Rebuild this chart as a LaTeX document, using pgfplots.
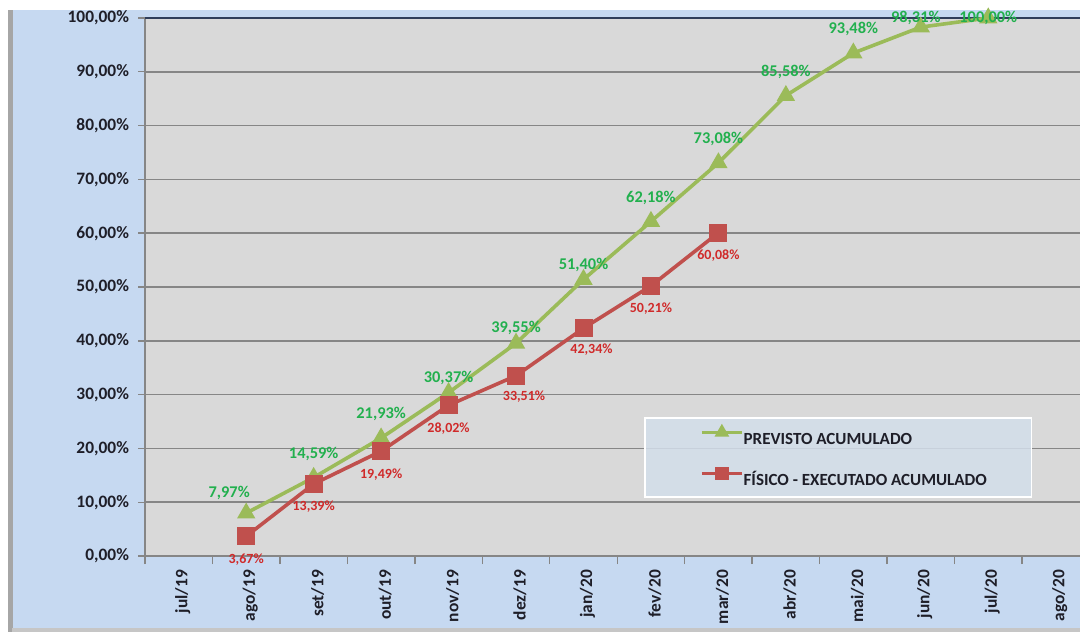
\documentclass[border=0pt]{standalone}
\usepackage{fontspec}
\setmainfont{Carlito}
\usepackage{pgfplots}
\pgfplotsset{compat=1.18}
\definecolor{bgblue}{HTML}{C6D9F1}
\definecolor{plotgray}{HTML}{D9D9D9}
\definecolor{gridgray}{HTML}{868686}
\definecolor{lgreen}{HTML}{9BBB59}
\definecolor{lred}{HTML}{C0504D}
\definecolor{tgreen}{HTML}{22B04E}
\definecolor{tred}{HTML}{D02A2A}
\definecolor{legfill}{HTML}{D3DEEA}
\definecolor{darktext}{HTML}{1E1E28}
\definecolor{topline}{HTML}{2F3E5A}
\pgfplotsset{
  lbl/.style={draw=none, mark=none, forget plot, point meta=y,
    nodes near coords={\pgfmathprintnumber[fixed,fixed zerofill,precision=2,use comma]{\pgfplotspointmeta}\%}},
  glbl/.style={lbl, every node near coord/.append style={anchor=center, inner sep=0pt, text=tgreen, font=\bfseries\fontsize{8.2}{9}\selectfont}},
  rlbl/.style={lbl, every node near coord/.append style={anchor=center, inner sep=0pt, text=tred, font=\bfseries\fontsize{7}{8}\selectfont}},
}
\begin{document}
\begin{tikzpicture}
\useasboundingbox (0,0) rectangle (540pt,316pt);
\fill[white] (0,0) rectangle (540pt,316pt);
\fill[bgblue] (6pt,0) rectangle (540pt,311pt);
\fill[gray!70] (4pt,0) rectangle (6.5pt,311pt);
\fill[gray!45] (6pt,0) rectangle (540pt,2pt);
\begin{axis}[
  at={(72.5pt,38pt)}, anchor=south west,
  scale only axis, width=467.5pt, height=269pt,
  xmin=-0.5, xmax=13.36, ymin=0, ymax=100,
  clip=false,
  /pgf/number format/assume math mode=true,
  axis background/.style={fill=plotgray},
  axis x line*=bottom, axis y line*=left,
  axis line style={gridgray, line width=0.8pt},
  ytick={0,10,...,100},
  yticklabels={{0,00\%},{10,00\%},{20,00\%},{30,00\%},{40,00\%},{50,00\%},{60,00\%},{70,00\%},{80,00\%},{90,00\%},{100,00\%}},
  xtick={0,...,13},
  xticklabels={jul/19,ago/19,set/19,out/19,nov/19,dez/19,jan/20,fev/20,mar/20,abr/20,mai/20,jun/20,jul/20,ago/20},
  minor xtick={-0.5,0.5,...,12.5},
  tick align=outside,
  major tick length=3.5pt, minor tick length=4pt,
  tick style={gridgray, line width=0.7pt},
  major x tick style={draw=none},
  ymajorgrids, major grid style={gridgray, line width=0.8pt},
  ticklabel style={font=\bfseries\fontsize{8.7}{10}\selectfont, text=darktext},
  yticklabel style={xshift=-1pt},
  xticklabel style={rotate=90, anchor=east, yshift=-2pt},
  legend style={at={(axis cs:6.907,25.65)}, anchor=north west, draw=none, fill=none,
    inner xsep=0pt, inner ysep=4.5pt, row sep=12pt, column sep=0pt,
    font=\bfseries\fontsize{8.5}{10}\selectfont, text=darktext,
    nodes={inner sep=0pt, text height=6pt, text depth=0pt}},
  legend cell align=left,
  legend image code/.code={\path (0pt,0pt) (47.5pt,0pt);
    \draw[mark repeat=2,mark phase=2,#1, mark options={solid, scale=0.7}] plot coordinates {(27.5pt,3pt) (37.5pt,3pt) (47.5pt,3pt)};},
]
\draw[topline, line width=0.8pt] (axis cs:-0.5,100) -- (axis cs:13.36,100);
\draw[white, line width=0.9pt, fill=legfill, fill opacity=0.85] (axis cs:6.907,10.97) rectangle (axis cs:12.64,25.65);

\addplot[lgreen, line width=1.8pt, mark=triangle*, mark size=3.5pt, mark options={solid}]
  coordinates {(1,7.97) (2,14.59) (3,21.93) (4,30.37) (5,39.55) (6,51.40) (7,62.18) (8,73.08) (9,85.58) (10,93.48) (11,98.31) (12,100.00)};
\addlegendentry{PREVISTO ACUMULADO}
\addplot[lred, line width=1.8pt, mark=square*, mark size=3.6pt, mark options={solid}]
  coordinates {(1,3.67) (2,13.39) (3,19.49) (4,28.02) (5,33.51) (6,42.34) (7,50.21) (8,60.08)};
\addlegendentry{FÍSICO - EXECUTADO ACUMULADO}

% green labels
\addplot[glbl, every node near coord/.append style={yshift=12pt}]
  coordinates {(2,14.59) (3,21.93) (7,62.18) (8,73.08) (9,85.58) (10,93.48)};
\addplot[glbl, every node near coord/.append style={yshift=7.5pt}]
  coordinates {(4,30.37) (5,39.55) (6,51.40)};
\addplot[glbl, every node near coord/.append style={xshift=-8.5pt, yshift=10pt}]
  coordinates {(1,7.97)};
\addplot[glbl, every node near coord/.append style={xshift=-2.5pt, yshift=4.5pt}]
  coordinates {(11,98.31)};
\addplot[glbl, every node near coord/.append style={yshift=0pt}]
  coordinates {(12,100.00)};
% red labels
\addplot[rlbl, every node near coord/.append style={yshift=-11.5pt}]
  coordinates {(1,3.67) (2,13.39) (3,19.49) (4,28.02) (7,50.21) (8,60.08)};
\addplot[rlbl, every node near coord/.append style={xshift=4pt, yshift=-10.5pt}]
  coordinates {(5,33.51) (6,42.34)};
\end{axis}
\end{tikzpicture}
\end{document}
